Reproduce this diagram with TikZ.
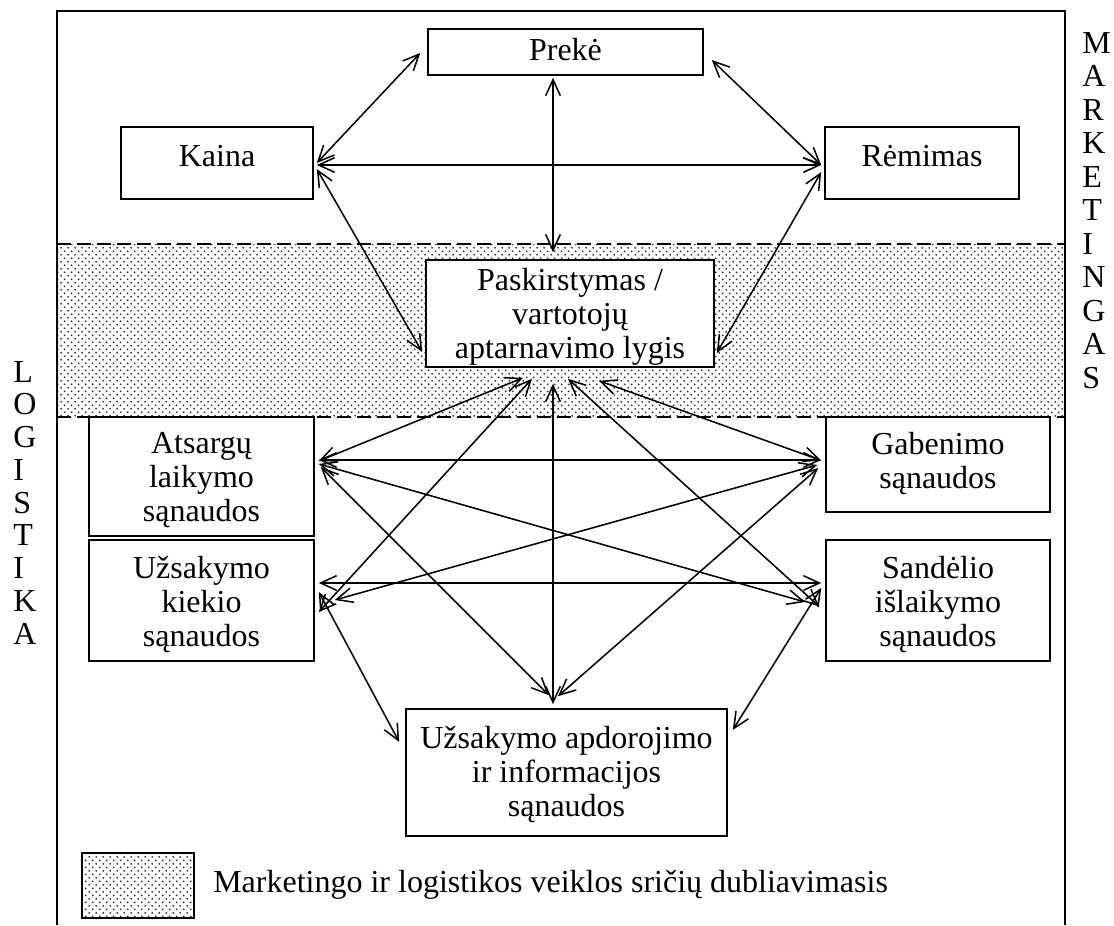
\documentclass[tikz,border=0pt]{standalone}
\usepackage{fontspec}
\setmainfont{Liberation Serif}
\usetikzlibrary{arrows.meta,patterns}
\pgfdeclarepatternformonly{ldots}{\pgfqpoint{-0.1pt}{-0.1pt}}{\pgfqpoint{5.35pt}{5.35pt}}{\pgfqpoint{5.25pt}{5.25pt}}{%
  \pgfpathcircle{\pgfqpoint{1.3pt}{1.3pt}}{0.75pt}%
  \pgfpathcircle{\pgfqpoint{3.925pt}{3.925pt}}{0.75pt}%
  \pgfusepath{fill}%
}
\newcommand\boxfont{\fontsize{24pt}{25.6pt}\selectfont}
\newcommand\hdstrut{\rule{0pt}{18pt}}
\tikzset{
  box/.style={draw, line width=1.2pt, fill=white, inner sep=0pt},
  boxtext/.style={inner sep=0pt, align=center, font=\boxfont, anchor=north},
  dlink/.style={line width=1.15pt, {Straight Barb[length=12pt,width=11pt]}-{Straight Barb[length=12pt,width=11pt]}},
  dotfill/.style={pattern=ldots, pattern color=black!80},
  bandedge/.style={line width=1.2pt, dash pattern=on 10.5pt off 4.5pt},
  outerframe/.style={line width=1.3pt},
  sidetext/.style={font=\boxfont, inner sep=0pt, anchor=base west},
}
\begin{document}
\begin{tikzpicture}[x=0.75pt,y=-0.75pt]
\useasboundingbox (0,0) rectangle (1114,925);
% overlap band
\fill[dotfill] (57,244) rectangle (1065,417);
\draw[bandedge] (57,244) -- (1065,244);
\draw[bandedge] (57,417) -- (1065,417);
% outer frame (open at the bottom)
\draw[outerframe] (57,925) -- (57,11) -- (1065,11) -- (1065,925);

% boxes
\node[box, minimum width=275*0.75pt, minimum height=46*0.75pt] (prek) at (565.5,52) {};
\node[box, minimum width=192*0.75pt, minimum height=72*0.75pt] (kaina) at (217,163) {};
\node[box, minimum width=194*0.75pt, minimum height=72*0.75pt] (rem) at (922,163) {};
\node[box, minimum width=288*0.75pt, minimum height=107*0.75pt] (pask) at (570,313.5) {};
\node[box, minimum width=225*0.75pt, minimum height=119*0.75pt] (ats) at (201.5,476.5) {};
\node[box, minimum width=225*0.75pt, minimum height=121*0.75pt] (uzk) at (201.5,600.5) {};
\node[box, minimum width=224*0.75pt, minimum height=95*0.75pt] (gab) at (938,464.5) {};
\node[box, minimum width=224*0.75pt, minimum height=121*0.75pt] (san) at (938,600.5) {};
\node[box, minimum width=321*0.75pt, minimum height=127*0.75pt] (uzo) at (566.5,772.5) {};

% box texts (first baseline 24px below the anchor)
\node[boxtext] (prekt) at (565.5,36) {\hdstrut Prekė};
\node[boxtext] (kainat) at (217,142) {\hdstrut Kaina};
\node[boxtext] (remt) at (922,142) {\hdstrut Rėmimas};
\node[boxtext] (paskt) at (570,266) {\hdstrut Paskirstymas /\\vartotojų\\aptarnavimo lygis};
\node[boxtext] (atst) at (201.5,429) {\hdstrut Atsargų\\laikymo\\sąnaudos};
\node[boxtext] (uzkt) at (201.5,554) {\hdstrut Užsakymo\\kiekio\\sąnaudos};
\node[boxtext] (gabt) at (938,430) {\hdstrut Gabenimo\\sąnaudos};
\node[boxtext] (sant) at (938,554) {\hdstrut Sandėlio\\išlaikymo\\sąnaudos};
\node[boxtext] (uzot) at (566.5,724) {\hdstrut Užsakymo apdorojimo\\ir informacijos\\sąnaudos};

% upper connectors
\draw[dlink] ([shift={(-7,1)}]prek.west) -- ([shift={(3,0)}]kaina.east);
\draw[dlink] ([shift={(8,8)}]prek.east) -- ([shift={(-3,2)}]rem.west);
\draw[dlink] ([shift={(3,2)}]kaina.east) -- ([shift={(-3,2)}]rem.west);
\draw[dlink] ([shift={(-12.5,2)}]prek.south) -- ([shift={(-17,-7)}]pask.north);
\draw[dlink] ([shift={(3,6)}]kaina.east) -- ([shift={(-3,38.5)}]pask.west);
\draw[dlink] ([shift={(-3,9)}]rem.west) -- ([shift={(2,39.5)}]pask.east);

% lower connectors
\draw[dlink] ([shift={(-47,10)}]pask.south) -- ([shift={(4,-15.5)}]ats.east);
\draw[dlink] ([shift={(-38,11)}]pask.south) -- ([shift={(4,11.5)}]uzk.east);
\draw[dlink] ([shift={(-17,16)}]pask.south) -- ([shift={(-13.5,-4)}]uzo.north);
\draw[dlink] ([shift={(-2,11)}]pask.south) -- ([shift={(-6,6)}]san.west);
\draw[dlink] ([shift={(29,13)}]pask.south) -- ([shift={(-4,-4)}]gab.west);
\draw[dlink] ([shift={(4,-16.5)}]ats.east) -- ([shift={(-4,-4.5)}]gab.west);
\draw[dlink] ([shift={(4,-17.5)}]uzk.east) -- ([shift={(-4,-17.5)}]san.west);
\draw[dlink] ([shift={(4,-12.5)}]ats.east) -- ([shift={(-20,1.5)}]san.west);
\draw[dlink] ([shift={(20,-0.5)}]uzk.east) -- ([shift={(-8,0.5)}]gab.west);
\draw[dlink] ([shift={(6,-9.5)}]ats.east) -- ([shift={(-17.5,-13)}]uzo.north);
\draw[dlink] ([shift={(4,-8.5)}]uzk.east) -- ([shift={(-6,-30.5)}]uzo.west);
\draw[dlink] ([shift={(-7,3.5)}]gab.west) -- ([shift={(-8.5,-12)}]uzo.north);
\draw[dlink] ([shift={(-4,-12.5)}]san.west) -- ([shift={(5,-42.5)}]uzo.east);

% side labels
\foreach \l [count=\i] in {M,A,R,K,E,T,I,N,G,A,S}
  \node[sidetext] (mk\i) at (1082,{53+33.5*(\i-1)}) {\l};
\foreach \l [count=\i] in {L,O,G,I,S,T,I,K,A}
  \node[sidetext] (lg\i) at (13,{382+32.75*(\i-1)}) {\l};

% legend
\node[draw, line width=1.6pt, dotfill, inner sep=0pt, minimum width=112*0.75pt, minimum height=65*0.75pt] (leg) at (138,885.5) {};
\node[sidetext] (legtext) at (213,892) {Marketingo ir logistikos veiklos sričių dubliavimasis};
\end{tikzpicture}
\end{document}
